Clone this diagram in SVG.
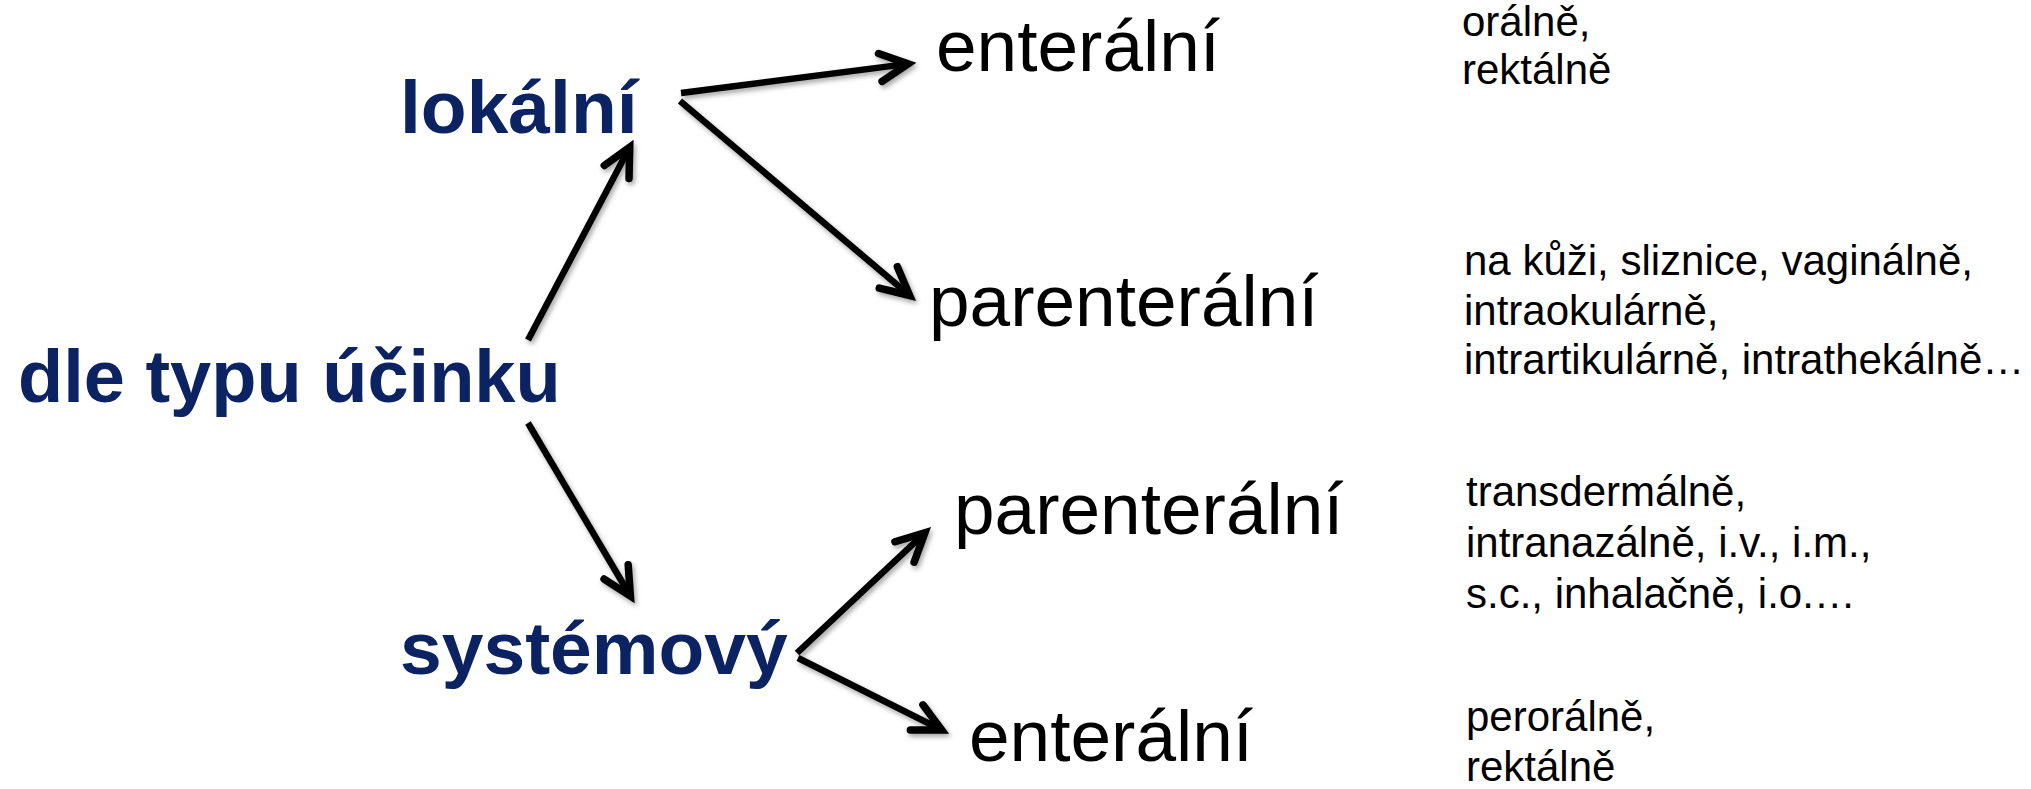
<svg xmlns="http://www.w3.org/2000/svg" width="2031" height="789" viewBox="0 0 2031 789">
  <style>
    .main { font-family: "Liberation Sans", Arial, sans-serif; font-weight: bold; font-size: 75px; fill: #0b2263; }
    .route { font-family: "Liberation Sans", Arial, sans-serif; font-size: 73px; fill: #000000; }
    .note { font-family: "Liberation Sans", Arial, sans-serif; font-size: 42px; fill: #000000; }
    .conn line { stroke: #000000; stroke-width: 6.5; fill: none; marker-end: url(#head); }
  </style>
  <defs>
    <filter id="shadow" x="-20%" y="-20%" width="140%" height="140%">
      <feDropShadow dx="2" dy="3" stdDeviation="2.5" flood-color="#000000" flood-opacity="0.35"/>
    </filter>
    <marker id="head" markerUnits="userSpaceOnUse" markerWidth="80" markerHeight="80" refX="0" refY="0" orient="auto" overflow="visible">
      <path d="M -28,-14 L 0,0 L -28,14" fill="none" stroke="#000000" stroke-width="7.5" stroke-linecap="round" stroke-linejoin="miter"/>
    </marker>
  </defs>
  <rect x="0" y="0" width="2031" height="789" fill="#ffffff"/>

  <g id="connectors" class="conn" filter="url(#shadow)">
    <line x1="528" y1="340" x2="629.7" y2="147.2"/>
    <line x1="681" y1="93" x2="908.1" y2="63.9"/>
    <line x1="680" y1="101" x2="909.7" y2="295.5"/>
    <line x1="528" y1="423" x2="630.4" y2="596"/>
    <line x1="797" y1="653" x2="924.9" y2="532.8"/>
    <line x1="798" y1="658" x2="941.7" y2="729.9"/>
  </g>

  <g id="node-dle-typu">
    <text class="main" x="18" y="402" style="font-size:74px">dle typu účinku</text>
  </g>
  <g id="node-lokalni">
    <text class="main" x="400" y="133">lokální</text>
  </g>
  <g id="node-systemovy">
    <text class="main" x="400" y="674">systémový</text>
  </g>

  <g id="node-lok-enteralni">
    <text class="route" x="936" y="71">enterální</text>
  </g>
  <g id="node-lok-parenteralni">
    <text class="route" x="929" y="326">parenterální</text>
  </g>
  <g id="node-sys-parenteralni">
    <text class="route" x="954" y="534">parenterální</text>
  </g>
  <g id="node-sys-enteralni">
    <text class="route" x="969" y="761">enterální</text>
  </g>

  <g id="note-lok-enteralni">
    <text class="note" x="1462" y="36">orálně,</text>
    <text class="note" x="1462" y="84">rektálně</text>
  </g>
  <g id="note-lok-parenteralni">
    <text class="note" x="1464" y="275">na kůži, sliznice, vaginálně,</text>
    <text class="note" x="1464" y="325">intraokulárně,</text>
    <text class="note" x="1464" y="374">intrartikulárně, intrathekálně…</text>
  </g>
  <g id="note-sys-parenteralni">
    <text class="note" x="1466" y="506">transdermálně,</text>
    <text class="note" x="1466" y="557">intranazálně, i.v., i.m.,</text>
    <text class="note" x="1466" y="608">s.c., inhalačně, i.o.…</text>
  </g>
  <g id="note-sys-enteralni">
    <text class="note" x="1466" y="731">perorálně,</text>
    <text class="note" x="1466" y="781">rektálně</text>
  </g>
</svg>
